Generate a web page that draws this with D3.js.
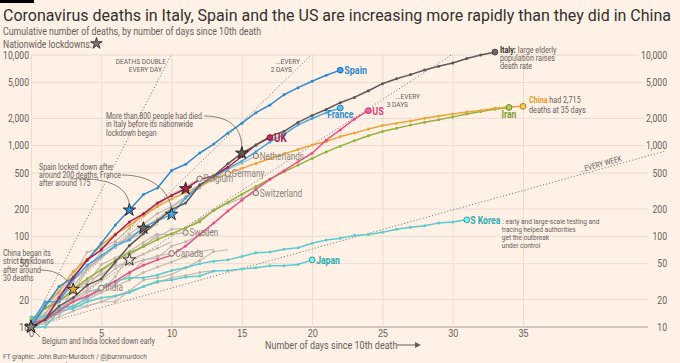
<!DOCTYPE html>
<html>
<head>
<meta charset="utf-8">
<script src="https://cdn.jsdelivr.net/npm/d3@7"></script>
<style>
  body { margin: 0; background: #fff1e5; }
  svg { display: block; font-family: Roboto, "Liberation Sans", sans-serif; }
</style>
</head>
<body>
<svg id="chart" width="680" height="363"></svg>
<script>
// cumulative deaths, index = days since 10th death
const italy = [10, 12, 17, 21, 29, 34, 52, 79, 107, 148, 197, 233, 366, 463, 631, 827, 1016, 1266, 1441, 1809, 2158, 2503, 2978, 3405, 4032, 4825, 5476, 6077, 6820, 7503, 8165, 9134, 10023, 10779];
const spain = [10, 17, 28, 35, 54, 84, 133, 195, 289, 342, 533, 623, 830, 1043, 1375, 1772, 2311, 2808, 3647, 4365, 5138, 5982, 6803];
const france = [11, 19, 19, 33, 48, 61, 79, 91, 127, 148, 175, 264, 372, 450, 562, 674, 860, 1100, 1331, 1696, 1995, 2314, 2606];
const us = [11, 12, 15, 19, 22, 26, 32, 40, 48, 55, 62, 78, 105, 140, 190, 250, 330, 426, 530, 665, 825, 1150, 1490, 1960, 2430];
const uk = [10, 12, 21, 35, 55, 71, 104, 144, 177, 233, 281, 335, 422, 465, 578, 759, 1019, 1228];
const china = [10, 17, 25, 41, 56, 80, 106, 132, 170, 213, 259, 304, 361, 425, 490, 562, 636, 723, 812, 909, 1017, 1114, 1259, 1380, 1523, 1665, 1770, 1868, 2004, 2118, 2236, 2345, 2442, 2592, 2663, 2715];
const iran = [12, 16, 19, 26, 34, 43, 54, 66, 77, 92, 107, 124, 145, 194, 237, 291, 354, 429, 514, 611, 724, 853, 988, 1135, 1284, 1433, 1556, 1685, 1812, 1934, 2077, 2234, 2378, 2517, 2640];
const sKorea = [13, 13, 16, 17, 21, 28, 32, 35, 35, 37.5, 42, 45, 50, 53, 55, 60, 66, 67, 72, 75, 84, 91, 95, 102, 105, 111, 120, 126, 131, 140, 144, 152];
const japan = [10, 10, 15, 16, 19, 21, 22, 24, 28, 32, 33, 35.5, 36.5, 41.5, 42, 43.6, 45, 47.5, 47.5, 49, 55];

const netherlands = [10, 12, 20, 24, 43, 58, 76, 106, 136, 179, 213, 276, 356, 434, 546, 639, 771];
const belgium = [10, 14, 21, 37, 67, 75, 88, 122, 178, 220, 289, 353, 431];
const germany = [11, 17, 24, 28, 44, 67, 84, 94, 123, 157, 206, 267, 342, 433, 490];
const switzerland = [11, 13, 14, 27, 28, 41, 54, 62, 80, 98, 120, 122, 153, 191, 231, 264, 300];
const sweden = [10, 11, 16, 20, 21, 25, 36, 62, 77, 105, 105, 110];
const canada = [12, 13, 20, 21, 25, 26, 30, 38, 54, 61, 65];
const india = [10, 12, 16, 19, 24, 27];

// unlabelled grey countries
const otherA = [10, 12, 15, 20, 26, 33, 44, 55, 64, 74, 87];
const otherB = [10, 12, 14, 17, 20, 24, 28, 33, 40, 46, 52, 60, 68, 72];
const otherC = [10, 11, 13, 15, 17, 19, 22, 25, 28, 31, 35, 37, 40, 42];
const otherD = [12, 14, 23, 33, 43, 60, 76, 100, 119, 140];
const otherE = [11, 18, 25, 34, 46, 59, 77, 92, 111, 136];
const otherF = [10, 16, 21, 28, 30, 49, 58, 68, 86, 108];
const otherG = [12, 12, 14, 17, 17, 19, 19, 25, 33, 35, 38, 45, 54, 68, 71];
const otherH = [10, 13, 19, 25, 32, 38, 48, 49, 55, 58, 78, 87, 102, 114];

const lockdownCountry = ['Belgium', 'India', 'China', 'Spain', 'France', 'UK', 'Italy', 'Germany', 'otherA'];
const lockdownDay = [0, 0, 3, 7, 10, 11, 15, 8, 7];
const lockdownDeaths = [10, 10, 26, 195, 175, 335, 827, 123, 55];

const xTicks = [0, 5, 10, 15, 20, 25, 30, 35];
const yTicks = [10, 20, 50, 100, 200, 500, 1000, 2000, 5000, 10000];
const doublingDays = [1, 2, 3, 7];

const greySeries = [
  ['otherA', otherA], ['otherB', otherB], ['otherC', otherC], ['otherD', otherD],
  ['otherE', otherE], ['otherF', otherF], ['otherG', otherG], ['otherH', otherH],
  ['Netherlands', netherlands], ['Belgium', belgium], ['Germany', germany],
  ['Switzerland', switzerland], ['Sweden', sweden], ['Canada', canada], ['India', india],
];
const colourSeries = [
  ['Japan', japan], ['S Korea', sKorea], ['Iran', iran], ['China', china], ['US', us],
  ['France', france], ['Spain', spain], ['UK', uk], ['Italy', italy],
];

const colours = {
  Italy: '#5e5753', Spain: '#2d8ccd', France: '#45a7e0', US: '#e8508a', UK: '#a8204f',
  China: '#eba53a', Iran: '#93b23c', 'S Korea': '#5ccbd0', Japan: '#5ccbd0',
};
const labelColours = {
  Italy: '#33302e', Spain: '#2d8ccd', France: '#2d8ccd', US: '#e0407e', UK: '#a8204f',
  China: '#e39d2c', Iran: '#7f9c2e', 'S Korea': '#27adb3', Japan: '#27adb3',
};
const grey = '#c1b6ad';
const greyText = '#8d837c';
const bg = '#fff1e5';
const textGrey = '#66605c';
const SX = 0.82; // squeeze text towards the FT's narrow face

const svg = d3.select('#chart');
svg.append('rect').attr('width', 680).attr('height', 363).attr('fill', bg);
svg.append('rect').attr('width', 34).attr('height', 3).attr('fill', '#000');

const x = d3.scaleLinear().domain([0, 35]).range([31, 523]);
const y = d3.scaleLog().domain([10, 10000]).range([327, 55]);
const gridRight = 648;

function addText(parent, tx, ty, str, size, fill, anchor = 'start') {
  return parent.append('text')
    .attr('transform', `translate(${tx},${ty}) scale(${SX},1)`)
    .attr('text-anchor', anchor).attr('font-size', size).attr('fill', fill)
    .text(str);
}

// header
svg.append('text').attr('x', 3).attr('y', 20.5)
  .attr('font-size', 16.5).attr('fill', '#33302e')
  .attr('textLength', 668).attr('lengthAdjust', 'spacingAndGlyphs')
  .text('Coronavirus deaths in Italy, Spain and the US are increasing more rapidly than they did in China');
svg.append('text').attr('x', 3).attr('y', 34.5).attr('font-size', 11.5).attr('fill', textGrey)
  .attr('textLength', 258).attr('lengthAdjust', 'spacingAndGlyphs')
  .text('Cumulative number of deaths, by number of days since 10th death');
addText(svg, 3, 47.5, 'Nationwide lockdowns:', 10.5, textGrey);
svg.append('path').attr('d', d3.symbol().type(d3.symbolStar).size(40)())
  .attr('transform', 'translate(96.5,43.5)').attr('fill', '#7d746e').attr('stroke', '#222').attr('stroke-width', 0.8);

// grid
const grid = svg.append('g');
grid.selectAll('line').data(yTicks).join('line')
  .attr('x1', x(0)).attr('x2', gridRight)
  .attr('y1', d => y(d)).attr('y2', d => y(d))
  .attr('stroke', d => (d === 10 ? '#a89e96' : '#eadcd0')).attr('stroke-width', 1);

const xAxis = d3.axisBottom(x).tickValues(xTicks).tickSize(-(y(10) - y(10000))).tickPadding(2.5);
const xg = svg.append('g').attr('transform', `translate(0,${y(10)})`).call(xAxis);
xg.select('.domain').remove();
xg.selectAll('.tick line').attr('stroke', '#eadcd0');
xg.selectAll('.tick text').attr('font-size', 11).attr('fill', textGrey)
  .attr('font-family', null).attr('transform', `scale(${SX},1)`);
xg.lower();
grid.lower();
svg.select('rect').lower();

const fmt = d3.format(',');
yTicks.forEach((d) => {
  addText(svg, 29, y(d) + 3.8, fmt(d), 10.5, textGrey, 'end');
  addText(svg, 667, y(d) + 3.8, fmt(d), 10.5, textGrey, 'end')
    .attr('stroke', bg).attr('stroke-width', 6).attr('paint-order', 'stroke');
});

// doubling guides
const guides = svg.append('g');
const weekEnd = x.invert(665);
doublingDays.forEach((p) => {
  const dEnd = Math.min(p * Math.log2(1000), weekEnd);
  guides.append('line')
    .attr('x1', x(0)).attr('y1', y(10))
    .attr('x2', x(dEnd)).attr('y2', y(10 * 2 ** (dEnd / p)))
    .attr('stroke', '#7a716b').attr('stroke-width', 0.9).attr('stroke-dasharray', '1.2,2');
});
addText(guides, 166, 63.5, 'DEATHS DOUBLE', 8, textGrey, 'end');
addText(guides, 162, 72, 'EVERY DAY', 8, textGrey, 'end');
addText(guides, 300, 63.5, '...EVERY', 8, textGrey, 'end');
addText(guides, 292, 72, '2 DAYS', 8, textGrey, 'end');
addText(guides, 420, 99, '...EVERY', 8, textGrey, 'end');
addText(guides, 408, 107, '3 DAYS', 8, textGrey, 'end');
{
  const d = 40.6;
  const ang = -Math.atan((y(10) - y(20)) / 7 / (x(1) - x(0))) * 180 / Math.PI;
  guides.append('text')
    .attr('transform', `translate(${x(d)},${y(10 * 2 ** (d / 7))}) rotate(${ang}) scale(${SX},1)`)
    .attr('y', -2).attr('text-anchor', 'middle')
    .attr('font-size', 8).attr('fill', textGrey).text('...EVERY WEEK');
}

// lines
const line = d3.line().x((v, i) => x(i)).y(v => y(v));
const linesG = svg.append('g');

function drawSeries(values, colour, width) {
  const g = linesG.append('g');
  g.append('path').attr('d', line(values)).attr('fill', 'none')
    .attr('stroke', colour).attr('stroke-width', width).attr('stroke-linejoin', 'round');
  g.selectAll('circle').data(values.slice(0, -1)).join('circle')
    .attr('cx', (v, i) => x(i)).attr('cy', v => y(v)).attr('r', 1.5).attr('fill', colour);
}
greySeries.forEach(([, values]) => drawSeries(values, grey, 1.1));
colourSeries.forEach(([name, values]) => drawSeries(values, colours[name], 1.5));

// annotation leaders
const ann = svg.append('g').attr('fill', 'none').attr('stroke', '#6b635e').attr('stroke-width', 0.8);
ann.append('path').attr('d', `M204,116 C230,116 ${x(15)},128 ${x(15)},${y(827) - 5}`);
ann.append('path').attr('d', `M70,179 C105,177 ${x(7) - 2},185 ${x(7)},${y(195) - 5}`);
ann.append('path').attr('d', `M122,175 C152,175 ${x(10) - 3},190 ${x(10)},${y(175) - 5}`);
ann.append('path').attr('d', `M40,270 C58,270 66,278 ${x(3) - 3},${y(26) - 4}`);
ann.append('path').attr('d', `M${x(0) + 3},${y(10) + 4} L40,337`);

// end markers + labels
const allSeries = Object.fromEntries([...greySeries, ...colourSeries]);
const endOf = (name) => {
  const v = allSeries[name];
  return [x(v.length - 1), y(v[v.length - 1])];
};
const marks = svg.append('g');
['Netherlands', 'Belgium', 'Germany', 'Switzerland', 'Sweden', 'Canada', 'India'].forEach((n) => {
  const [px, py] = endOf(n);
  marks.append('circle').attr('cx', px).attr('cy', py).attr('r', 2.7)
    .attr('fill', '#efe2d7').attr('stroke', '#7f766f').attr('stroke-width', 1);
  addText(marks, px + 3.8, py + 3.6, n, 10, greyText);
});
colourSeries.forEach(([n]) => {
  const [px, py] = endOf(n);
  const c = d3.color(colours[n]);
  marks.append('circle').attr('cx', px).attr('cy', py).attr('r', 2.9)
    .attr('fill', c.brighter(0.5)).attr('stroke', c.darker(0.8)).attr('stroke-width', 1);
});

const lab = (px, py, parts, size = 10.5, anchor = 'start') => {
  const t = addText(marks, px, py, null, size, null, anchor);
  parts.forEach(([str, col, bold]) => {
    t.append('tspan').attr('fill', col).attr('font-weight', bold ? 'bold' : 'normal').text(str);
  });
  return t;
};
{
  let [px, py] = endOf('Spain');
  lab(px + 4, py + 4, [['Spain', labelColours.Spain, true]], 11);
  [px, py] = endOf('France');
  lab(px, py + 10, [['France', labelColours.France, true]], 10.5, 'middle');
  [px, py] = endOf('US');
  lab(px + 4, py + 4, [['US', labelColours.US, true]], 11);
  [px, py] = endOf('UK');
  lab(px + 4, py + 4.5, [['UK', labelColours.UK, true]], 12);
  [px, py] = endOf('Iran');
  lab(px, py + 11, [['Iran', labelColours.Iran, true]], 10.5, 'middle');
  [px, py] = endOf('Japan');
  lab(px + 4, py + 4, [['Japan', labelColours.Japan, true]], 10.5);

  [px, py] = endOf('Italy');
  lab(px + 5, py + 0.5, [['Italy:', labelColours.Italy, true], [' large elderly', textGrey]], 8.8);
  lab(px + 5, py + 8.8, [['population raises', textGrey]], 8.8);
  lab(px + 5, py + 17, [['death rate', textGrey]], 8.8);

  [px, py] = endOf('China');
  lab(px + 6, py - 3.5, [['China', labelColours.China, true], [' had 2,715', textGrey]], 8.8);
  lab(px + 6, py + 6.5, [['deaths at 35 days', textGrey]], 8.8);

  [px, py] = endOf('S Korea');
  lab(px + 3.5, py + 3.8, [['S Korea', labelColours['S Korea'], true]], 10.5);
  lab(px + 35.5, py + 3.8, [[': early and large-scale testing and', textGrey]], 8);
  lab(px + 35, py + 12, [['tracing helped authorities', textGrey]], 8);
  lab(px + 35, py + 20.3, [['get the outbreak', textGrey]], 8);
  lab(px + 35, py + 28.6, [['under control', textGrey]], 8);
}

// lockdown stars
const star = d3.symbol().type(d3.symbolStar).size(48);
const starFill = { Belgium: '#8e857e', India: '#8e857e', Germany: '#6e6660', otherA: '#f4e8dc' };
svg.append('g').selectAll('path').data(lockdownCountry).join('path')
  .attr('d', star())
  .attr('transform', (c, i) => `translate(${x(lockdownDay[i])},${y(lockdownDeaths[i])})`)
  .attr('fill', c => starFill[c] || colours[c])
  .attr('stroke', '#1f1d1c').attr('stroke-width', 0.9);

// annotation text
const note = (tx, ty, lines, size = 8.5) => {
  lines.forEach((s, i) => addText(svg, tx, ty + i * 8.4, s, size, textGrey));
};
note(106, 119, ['More than 800 people had died', 'in Italy before its nationwide', 'lockdown began']);
note(39, 169.5, ['Spain locked down after', 'around 200 deaths, France', 'after around 175']);
note(3, 256, ['China began its', 'strict lockdowns', 'after around', '30 deaths']);
note(42, 344, ['Belgium and India locked down early']);

// x title + credits
addText(svg, 265, 348.5, 'Number of days since 10th death', 11, textGrey);
svg.append('line').attr('x1', 397).attr('x2', 416).attr('y1', 345).attr('y2', 345)
  .attr('stroke', textGrey).attr('stroke-width', 1);
svg.append('path').attr('d', 'M415,342 L421,345 L415,348 Z').attr('fill', textGrey);
addText(svg, 3, 358.5, 'FT graphic: John Burn-Murdoch / @jburnmurdoch', 8, textGrey);
addText(svg, 3, 368, 'Source: FT analysis of Johns Hopkins University CSSE; Worldometers; FT research. Data updated March 29, 19:00 GMT', 8, textGrey);
</script>
</body>
</html>
